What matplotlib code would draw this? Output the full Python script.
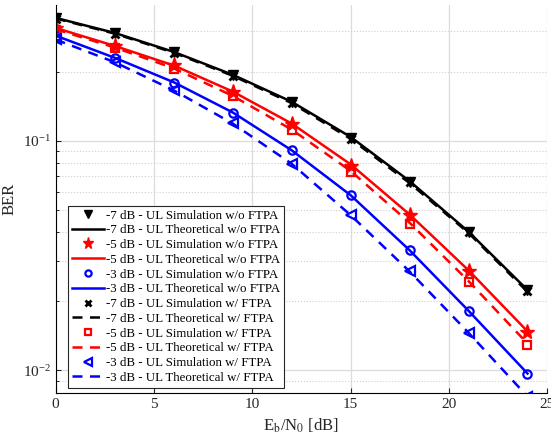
import numpy as np
import matplotlib
matplotlib.use('Agg')
import matplotlib.pyplot as plt
from matplotlib.ticker import LogLocator, NullFormatter

plt.rcParams['font.family'] = ['Liberation Serif', 'DejaVu Serif']
plt.rcParams['mathtext.fontset'] = 'stix'

ebn0 = [0, 3, 6, 9, 12, 15, 18, 21, 24]

# simulation points
sim_m7_wo = [0.341, 0.294, 0.243, 0.193, 0.147, 0.103, 0.0663, 0.0401, 0.0223]
sim_m5_wo = [0.309, 0.258, 0.214, 0.1636, 0.118, 0.078, 0.0477, 0.0272, 0.0147]
sim_m3_wo = [0.286, 0.229, 0.179, 0.1325, 0.091, 0.058, 0.0333, 0.0181, 0.00964]
sim_m7_w = [0.340, 0.293, 0.242, 0.192, 0.146, 0.102, 0.0660, 0.0399, 0.0221]
sim_m5_w = [0.305, 0.254, 0.206, 0.156, 0.111, 0.073, 0.0436, 0.0242, 0.0129]
sim_m3_w = [0.277, 0.221, 0.166, 0.119, 0.0794, 0.0474, 0.0270, 0.01456, 0.0077]

# theoretical curves
th_m7_wo = [0.343, 0.295, 0.244, 0.194, 0.148, 0.104, 0.0668, 0.0402, 0.0224]
th_m5_wo = [0.310, 0.259, 0.213, 0.164, 0.119, 0.079, 0.0478, 0.0273, 0.0148]
th_m3_wo = [0.287, 0.230, 0.180, 0.133, 0.091, 0.058, 0.0334, 0.0182, 0.0097]
th_m7_w = [0.341, 0.293, 0.242, 0.192, 0.146, 0.102, 0.0655, 0.0397, 0.0220]
th_m5_w = [0.306, 0.255, 0.207, 0.157, 0.112, 0.074, 0.0440, 0.0245, 0.0131]
th_m3_w = [0.276, 0.220, 0.166, 0.119, 0.0795, 0.0475, 0.0270, 0.0146, 0.0077]

fig = plt.figure(figsize=(5.51, 4.41), dpi=100)
ax = fig.add_axes([0.101, 0.1095, 0.892, 0.879])

lw = 1.8
ax.plot(ebn0, sim_m7_wo, 'v', color='k', ms=7, ls='none', label='-7 dB - UL Simulation w/o FTPA')
ax.plot(ebn0, th_m7_wo, '-', color='k', lw=lw, label='-7 dB - UL Theoretical w/o FTPA')
ax.plot(ebn0, sim_m5_wo, '*', color='r', ms=11, ls='none', label='-5 dB - UL Simulation w/o FTPA')
ax.plot(ebn0, th_m5_wo, '-', color='r', lw=lw, label='-5 dB - UL Theoretical w/o FTPA')
ax.plot(ebn0, sim_m3_wo, 'o', color='b', ms=6, mfc='none', mew=1.6, ls='none', label='-3 dB - UL Simulation w/o FTPA')
ax.plot(ebn0, th_m3_wo, '-', color='b', lw=lw, label='-3 dB - UL Theoretical w/o FTPA')
ax.plot(ebn0, sim_m7_w, 'x', color='k', ms=6, mew=2, ls='none', label='-7 dB - UL Simulation w/ FTPA')
ax.plot(ebn0, th_m7_w, '--', color='k', lw=lw, dashes=(4, 3), label='-7 dB - UL Theoretical w/ FTPA')
ax.plot(ebn0, sim_m5_w, 's', color='r', ms=5.5, mfc='none', mew=1.6, ls='none', label='-5 dB - UL Simulation w/ FTPA')
ax.plot(ebn0, th_m5_w, '--', color='r', lw=lw, dashes=(4, 3), label='-5 dB - UL Theoretical w/ FTPA')
ax.plot(ebn0, sim_m3_w, '<', color='b', ms=7, mfc='none', mew=1.6, ls='none', label='-3 dB - UL Simulation w/ FTPA')
ax.plot(ebn0, th_m3_w, '--', color='b', lw=lw, dashes=(4, 3), label='-3 dB - UL Theoretical w/ FTPA')

ax.set_yscale('log')
ax.set_xlim(0, 25)
ax.set_ylim(0.008, 0.39)
ax.set_xticks([0, 5, 10, 15, 20, 25])
ax.yaxis.set_minor_locator(LogLocator(base=10, subs=np.arange(2, 10)))
ax.yaxis.set_minor_formatter(NullFormatter())

ax.grid(True, which='major', color='#dcdcdc', lw=0.9, ls='-')
ax.grid(True, which='minor', axis='y', color='#cfcfcf', lw=0.8, ls=':')
ax.set_axisbelow(True)
ax.spines['top'].set_visible(False)
ax.spines['right'].set_visible(False)
ax.tick_params(direction='in', labelsize=11, colors='#262626', labelcolor='#262626')
ax.tick_params(which='minor', direction='in')

ax.set_xlabel(r'E$_\mathrm{b}$/N$_0$ [dB]', fontsize=12, color='#262626')
ax.set_ylabel('BER', fontsize=12, color='#262626')

leg = ax.legend(loc='lower left', bbox_to_anchor=(0.025, 0.013), borderaxespad=0,
                fontsize=9.3, fancybox=False, edgecolor='#262626', framealpha=1,
                handlelength=2.5, handletextpad=0.15, labelspacing=0.21, borderpad=0.3,
                markerscale=0.75)
leg.get_frame().set_linewidth(0.8)

fig.savefig('out.png', dpi=100)
